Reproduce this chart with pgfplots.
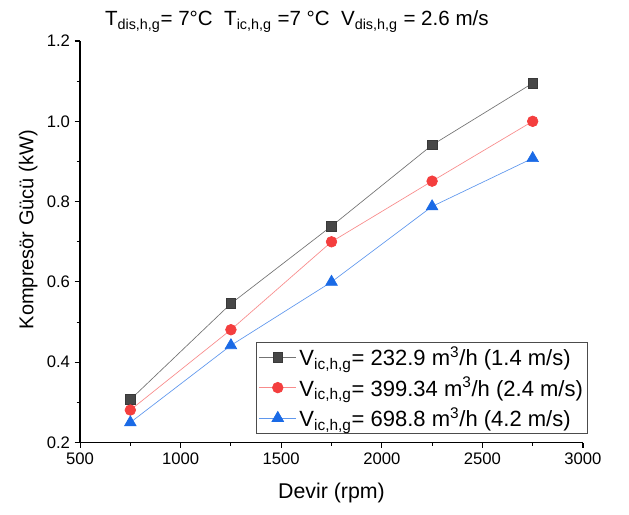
\documentclass[border=0pt]{standalone}
\usepackage{pgfplots}
\pgfplotsset{compat=1.18}
\usepackage{fontspec}
\setmainfont{Liberation Sans}
\definecolor{sqgray}{HTML}{474747}
\definecolor{cred}{HTML}{F43E3E}
\definecolor{cblue}{HTML}{1A6AE6}
\begin{document}
\begin{tikzpicture}
\begin{axis}[
  name=ax,
  scale only axis,
  width=377pt, height=301pt,
  xmin=500, xmax=3000, ymin=0.2, ymax=1.2,
  axis lines*=left,
  axis line style={line width=0.9pt},
  xtick={500,1000,...,3000},
  ytick={0.2,0.4,...,1.2},
  minor x tick num=1, minor y tick num=1,
  tick align=outside,
  major tick length=4pt, minor tick length=2.5pt,
  tick style={black, line width=0.8pt},
  xticklabel style={/pgf/number format/.cd,fixed,1000 sep={}},
  yticklabel style={/pgf/number format/.cd,fixed,fixed zerofill,precision=1},
  /pgf/number format/assume math mode=true,
  ticklabel style={font=\fontsize{12.5}{14}\selectfont},
  xlabel={Devir (rpm)}, ylabel={Kompresör Gücü (kW)},
  xlabel style={yshift=-7pt, font=\fontsize{16}{18}\selectfont},
  ylabel style={at={(ticklabel cs:0.53)}, font=\fontsize{15}{17}\selectfont},
  title={T\textsubscript{dis,h,g}= 7°C\ \ T\textsubscript{ic,h,g} =7 °C\ \ V\textsubscript{dis,h,g} = 2.6 m/s},
  title style={font=\fontsize{15.4}{18}\selectfont, at={(0.5,1)}, anchor=south, yshift=-3pt, xshift=-26pt},
  legend style={at={(1.01,0.022)}, anchor=south east, draw=black!70, line width=0.6pt,
    font=\fontsize{16.5}{19}\selectfont, row sep=3pt, inner sep=1.5pt},
  legend cell align=left,
  legend image code/.code={\draw[mark repeat=2,mark phase=2] plot coordinates {(0pt,0pt) (14pt,0pt) (28pt,0pt)};},
  every axis plot/.append style={line width=0.5pt},
]
\addplot[black!55, mark=square*, mark size=3.6pt, mark options={fill=sqgray, draw=sqgray!80!black}]
  coordinates {(750,0.307) (1250,0.546) (1750,0.739) (2250,0.941) (2750,1.095)};
\addlegendentry{V\textsubscript{ic,h,g}= 232.9 m\textsuperscript{3}/h (1.4 m/s)}
\addplot[cred!60, mark=*, mark size=4pt, mark options={fill=cred, draw=cred}]
  coordinates {(750,0.281) (1250,0.481) (1750,0.700) (2250,0.851) (2750,1.000)};
\addlegendentry{V\textsubscript{ic,h,g}= 399.34 m\textsuperscript{3}/h (2.4 m/s)}
\addplot[cblue!70, mark=triangle*, mark size=5pt, mark options={fill=cblue, draw=cblue}]
  coordinates {(750,0.250) (1250,0.442) (1750,0.600) (2250,0.788) (2750,0.908)};
\addlegendentry{V\textsubscript{ic,h,g}= 698.8 m\textsuperscript{3}/h (4.2 m/s)}
\end{axis}
\pgfresetboundingbox
\path ([xshift=-60pt,yshift=-54pt]ax.south west) rectangle ([xshift=34.5pt,yshift=30.75pt]ax.north east);
\end{tikzpicture}
\end{document}
